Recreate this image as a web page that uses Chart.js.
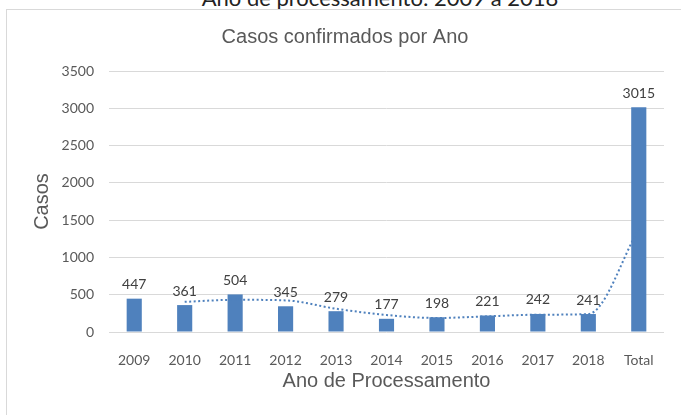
<!DOCTYPE html>
<html>
<head>
<meta charset="utf-8">
<script src="https://cdn.jsdelivr.net/npm/chart.js@4"></script>
<style>
    html, body { margin: 0; padding: 0; background: #fff; overflow: hidden; }
    #wrap { position: relative; width: 681px; height: 415px; }
    #heading {
        position: absolute; left: 0; width: 760px; top: -13px;
        text-align: center; font: 22px/22px Lato, sans-serif; color: #222;
    }
    #frame {
        position: absolute; left: 6px; top: 9px; right: 0; bottom: -2px;
        border-left: 1px solid #d9d9d9; border-top: 1px solid #d9d9d9;
    }
    #casosChart { position: absolute; left: 0; top: 0; }
</style>
</head>
<body>
<div id="wrap">
    <div id="heading">Ano de processamento: 2009 a 2018</div>
    <div id="frame"></div>
    <canvas id="casosChart" width="681" height="415"></canvas>
</div>
<script>
const anos = ["2009", "2010", "2011", "2012", "2013", "2014", "2015", "2016", "2017", "2018", "Total"];
const casos = [447, 361, 504, 345, 279, 177, 198, 221, 242, 241, 3015];
// linha de tendência (média móvel)
const tendencia = [null, 404, 432, 424, 312, 228, 188, 210, 232, 241, 1380];
const yTicks = [0, 500, 1000, 1500, 2000, 2500, 3000, 3500];

const rotulos = {
    id: "rotulos",
    afterDatasetsDraw(chart) {
        const ctx = chart.ctx;
        const meta = chart.getDatasetMeta(0);
        ctx.save();
        ctx.font = "14px Lato, sans-serif";
        ctx.fillStyle = "#404040";
        ctx.textAlign = "center";
        ctx.textBaseline = "bottom";
        meta.data.forEach(function (bar, i) {
            ctx.fillText(casos[i], bar.x, bar.y - 7);
        });
        ctx.restore();
    }
};

document.addEventListener("DOMContentLoaded", function () {
    const ctx = document.getElementById("casosChart").getContext("2d");

    new Chart(ctx, {
        type: "bar",
        data: {
            labels: anos,
            datasets: [
                {
                    label: "Casos",
                    data: casos,
                    backgroundColor: "#4f81bd",
                    categoryPercentage: 1,
                    barPercentage: 0.3,
                    order: 2,
                },
                {
                    type: "line",
                    label: "Tendência",
                    data: tendencia,
                    borderColor: "#4f81bd",
                    borderWidth: 2,
                    borderDash: [2, 2.5],
                    pointRadius: 0,
                    cubicInterpolationMode: "monotone",
                    fill: false,
                    order: 1,
                },
            ],
        },
        options: {
            responsive: false,
            animation: false,
            layout: { padding: { left: 26, right: 17, top: 0, bottom: 0 } },
            plugins: {
                legend: { display: false },
                tooltip: { enabled: false },
                title: {
                    display: true,
                    text: "Casos confirmados por Ano",
                    color: "#595959",
                    font: { family: "Liberation Sans", size: 20, weight: "normal" },
                    padding: { top: 25, bottom: 22 },
                },
            },
            scales: {
                x: {
                    grid: { display: false },
                    border: { display: false },
                    ticks: {
                        color: "#595959",
                        font: { family: "Lato", size: 14 },
                        padding: 12,
                    },
                    title: {
                        display: true,
                        text: "Ano de Processamento",
                        color: "#595959",
                        font: { family: "Liberation Sans", size: 20 },
                        padding: { top: 0, bottom: 22 },
                    },
                    afterFit: function (scale) { scale.height = 83; },
                },
                y: {
                    min: 0,
                    max: 3500,
                    afterBuildTicks: function (scale) {
                        scale.ticks = yTicks.map(function (v) { return { value: v }; });
                    },
                    grid: { color: "#d9d9d9", drawTicks: false },
                    border: { display: false },
                    ticks: {
                        color: "#595959",
                        font: { family: "Lato", size: 14 },
                        padding: 15,
                        callback: function (v) { return String(v); },
                    },
                    title: {
                        display: true,
                        text: "Casos",
                        color: "#595959",
                        font: { family: "Liberation Sans", size: 20 },
                        padding: { top: 4, bottom: 0 },
                    },
                    afterFit: function (scale) { scale.width = 83; },
                },
            },
        },
        plugins: [rotulos],
    });
});
</script>
</body>
</html>
